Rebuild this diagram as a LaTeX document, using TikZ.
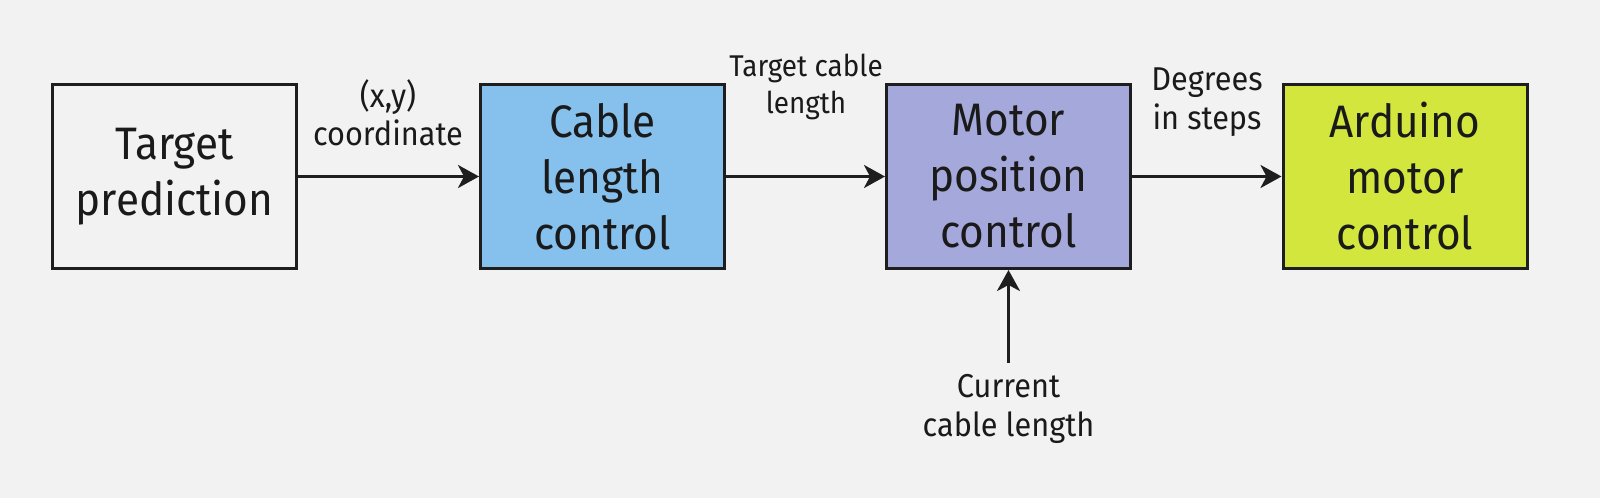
\documentclass[tikz,border=0pt]{standalone}
\usepackage{fontspec}
\setmainfont{Fira Sans}[FakeStretch=0.93]
\usetikzlibrary{arrows.meta}
\definecolor{bgc}{HTML}{F2F2F2}
\definecolor{edgec}{HTML}{1E1E1E}
\definecolor{bluec}{HTML}{85C1EC}
\definecolor{purplec}{HTML}{A5A8DA}
\definecolor{limec}{HTML}{D2E63E}
\definecolor{textc}{HTML}{1A1A1A}
\tikzset{
  blockbox/.style={draw=edgec, line width=3pt, minimum width=244pt, minimum height=184pt,
    align=center, inner sep=0pt, font=\fontsize{45.5}{56}\selectfont, text=textc},
  flowarrow/.style={draw=edgec, line width=3pt, -{Stealth[length=21pt,width=23pt,inset=6pt]}},
  flowlabel/.style={align=center, inner sep=0pt, font=\fontsize{33}{38.5}\selectfont, text=textc},
  smalllabel/.style={flowlabel, font=\fontsize{30}{37}\selectfont}
}
\begin{document}
\begin{tikzpicture}[x=1pt,y=-1pt]
\fill[bgc] (0,0) rectangle (1600,498);
\useasboundingbox (0,0) rectangle (1600,498);
\node[blockbox, fill=bgc] (tp) at (174.5,176.5) {Target\\prediction};
\node[blockbox, fill=bluec] (clc) at (602.5,176.5) {Cable\\length\\control};
\node[blockbox, fill=purplec] (mpc) at (1008.5,176.5) {Motor\\position\\control};
\node[blockbox, fill=limec] (amc) at (1405,176.5) {Arduino\\motor\\control};
\coordinate (cur) at (1008.5,363);
\draw[flowarrow] (tp) -- (clc);
\draw[flowarrow] (clc) -- (mpc);
\draw[flowarrow] (mpc) -- (amc);
\draw[flowarrow] (cur) -- (mpc.south);
\node[flowlabel] (l1) at (388,113) {(x,y)\\coordinate};
\node[smalllabel] (l2) at (806,87) {Target cable\\length};
\node[flowlabel] (l3) at (1207,102) {Degrees\\in steps};
\node[flowlabel] (l4) at (1008.5,409) {Current\\cable length};
\end{tikzpicture}
\end{document}
